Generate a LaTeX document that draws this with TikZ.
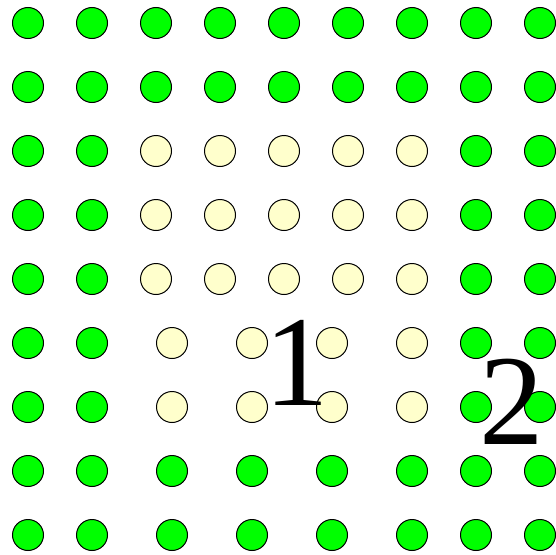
\documentclass[tikz,border=0pt]{standalone}
\usepackage{fontspec}
\setmainfont{Liberation Serif}
\definecolor{dotGreen}{RGB}{0,255,0}
\definecolor{dotPale}{RGB}{255,255,204}
\tikzset{
  dot/.style={circle, draw=black, line width=1pt, minimum size=31pt, inner sep=0pt},
  dotG/.style={dot, fill=dotGreen},
  dotP/.style={dot, fill=dotPale},
  bigNum/.style={anchor=base, inner sep=0pt, font=\fontsize{129}{129}\selectfont},
}

\begin{document}
\begin{tikzpicture}[x=1pt,y=-1pt]
\useasboundingbox (0,0) rectangle (556,554);
% top two rows
\foreach \r in {1,2}
  \foreach \c in {1,...,9}
    \node[dotG] (d\r-\c) at ({28+64*(\c-1)},{23+64*(\r-1)}) {};
% rows 3 to 5
\foreach \r in {3,4,5} {
  \foreach \c in {1,2,8,9}
    \node[dotG] (d\r-\c) at ({28+64*(\c-1)},{23+64*(\r-1)}) {};
  \foreach \c in {3,...,7}
    \node[dotP] (d\r-\c) at ({28+64*(\c-1)},{23+64*(\r-1)}) {};
}
% rows 6 and 7, wider spacing in the middle
\foreach \r in {6,7} {
  \foreach \c/\x in {1/28,2/92,7/476,8/540}
    \node[dotG] (d\r-\c) at (\x,{23+64*(\r-1)}) {};
  \foreach \c/\x in {3/172,4/252,5/332,6/412}
    \node[dotP] (d\r-\c) at (\x,{23+64*(\r-1)}) {};
}
% bottom two rows
\foreach \r in {8,9}
  \foreach \c/\x in {1/28,2/92,3/172,4/252,5/332,6/412,7/476,8/540}
    \node[dotG] (d\r-\c) at (\x,{23+64*(\r-1)}) {};
\node[bigNum] (one) at (297,405) {1};
\node[bigNum] (two) at (512,444) {2};
\end{tikzpicture}
\end{document}
